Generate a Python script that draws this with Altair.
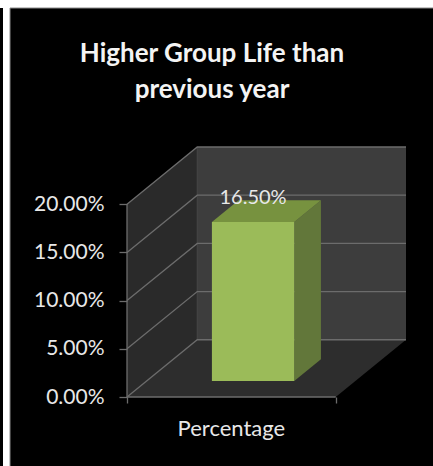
import altair as alt
import pandas as pd

# Chart content
title_lines = ["Higher Group Life than", "previous year"]
category = "Percentage"
value = 0.165
y_ticks = [0.0, 0.05, 0.10, 0.15, 0.20]

# Oblique projection: one unit of depth shifts right and up by these amounts
DEPTH_X = 70 / 208
DEPTH_Y = 57 / 960
Y_TOP = 0.20
BAR_X = (0.3125, 0.707)
BAR_DEPTH = (0.28, 0.66)

GRID = "#6c6c6c"
TEXT = "#e8e8e8"
FONT = "Lato"

x_scale = alt.Scale(domain=[0, 1 + DEPTH_X], nice=False, zero=False)
y_scale = alt.Scale(domain=[0, Y_TOP + DEPTH_Y], nice=False, zero=False)


def px(x, d):
    return x + d * DEPTH_X


def py(v, d):
    return v + d * DEPTH_Y


def upright(x_a, d_a, x_b, d_b, low, high, color):
    """Face with vertical sides, running from one (x, depth) to another."""
    df = pd.DataFrame({
        "sx": [px(x_a, d_a), px(x_b, d_b)],
        "lo": [py(low, d_a), py(low, d_b)],
        "hi": [py(high, d_a), py(high, d_b)],
    })
    return alt.Chart(df).mark_area(color=color, orient="vertical", opacity=1).encode(
        x=alt.X("sx:Q", scale=x_scale, axis=None),
        y=alt.Y("lo:Q", scale=y_scale, axis=None),
        y2="hi:Q",
    )


def level(x_a, x_b, d_a, d_b, v, color):
    """Horizontal face at height v, from depth d_a to depth d_b."""
    df = pd.DataFrame({
        "sy": [py(v, d_a), py(v, d_b)],
        "left": [px(x_a, d_a), px(x_a, d_b)],
        "right": [px(x_b, d_a), px(x_b, d_b)],
    })
    return alt.Chart(df).mark_area(color=color, orient="horizontal", opacity=1).encode(
        y=alt.Y("sy:Q", scale=y_scale, axis=None),
        x=alt.X("left:Q", scale=x_scale, axis=None),
        x2="right:Q",
    )


# Page frame: white ground with a black panel and a thin black strip at the edge
panel = alt.Chart(pd.DataFrame({"k": [0]})).mark_rect(
    color="#000000", stroke="#8a8a8a", strokeWidth=1
).encode(x=alt.value(-117), x2=alt.value(320), y=alt.value(-139), y2=alt.value(330))
strip = alt.Chart(pd.DataFrame({"k": [0]})).mark_rect(color="#000000").encode(
    x=alt.value(-127), x2=alt.value(-124), y=alt.value(-139), y2=alt.value(330)
)

left_wall = upright(0, 0, 0, 1, 0, Y_TOP, "#2a2a2a")
back_wall = upright(0, 1, 1, 1, 0, Y_TOP, "#3d3d3d")
floor = level(0, 1, 0, 1, 0, "#2d2d2d")

# Gridlines follow the left wall, then the back wall
grid_rows = []
for tick in y_ticks:
    for x, d in [(0, 0), (0, 1), (1, 1)]:
        grid_rows.append({"tick": tick, "sx": px(x, d), "sy": py(tick, d)})
gridlines = alt.Chart(pd.DataFrame(grid_rows)).mark_line(color=GRID, strokeWidth=1.3).encode(
    x=alt.X("sx:Q", scale=x_scale, axis=None),
    y=alt.Y("sy:Q", scale=y_scale, axis=None),
    detail="tick:N",
)
corner = alt.Chart(pd.DataFrame({
    "sx": [px(0, 1), px(0, 1)], "sy": [py(0, 1), py(Y_TOP, 1)]
})).mark_line(color="#4a4a4a", strokeWidth=1).encode(
    x=alt.X("sx:Q", scale=x_scale, axis=None),
    y=alt.Y("sy:Q", scale=y_scale, axis=None),
)

# The bar: side, top, then front face
d0, d1 = BAR_DEPTH
x0, x1 = BAR_X
bar_side = upright(x1, d0, x1, d1, 0, value, "#62773a")
bar_top = level(x0, x1, d0, d1, value, "#77923f")
bar_front = upright(x0, d0, x1, d0, 0, value, "#9bbb59")

value_label = alt.Chart(pd.DataFrame({
    "sx": [px((x0 + x1) / 2, d0)], "sy": [py(value, d1)], "label": [f"{value:.2%}"]
})).mark_text(font=FONT, fontSize=20, color=TEXT, baseline="middle", dy=-2).encode(
    x=alt.X("sx:Q", scale=x_scale, axis=None),
    y=alt.Y("sy:Q", scale=y_scale, axis=None),
    text="label:N",
)

# Real axes: value ticks on the left, category boundaries along the bottom
axes = alt.Chart(pd.DataFrame({"sx": [0, 1], "sy": [0, Y_TOP]})).mark_line(opacity=0).encode(
    x=alt.X("sx:Q", scale=x_scale, axis=alt.Axis(
        values=[0, 1], labels=False, title=None, grid=False, zindex=1,
        domain=False, tickColor=GRID, tickSize=6, tickWidth=1.3,
    )),
    y=alt.Y("sy:Q", scale=y_scale, axis=alt.Axis(
        values=y_ticks, format=".2%", title=None, grid=False, zindex=1,
        domain=False, tickColor=GRID, tickSize=8, tickWidth=1.3,
        labelFont=FONT, labelFontSize=21, labelColor=TEXT, labelPadding=15,
    )),
)
axis_lines = alt.Chart(pd.DataFrame({"sx": [0, 0, 1], "sy": [Y_TOP, 0, 0], "o": [0, 1, 2]})).mark_line(
    color=GRID, strokeWidth=1.3
).encode(
    x=alt.X("sx:Q", scale=x_scale, axis=None),
    y=alt.Y("sy:Q", scale=y_scale, axis=None),
    order="o:Q",
)
category_label = alt.Chart(pd.DataFrame({"sx": [0.5], "sy": [0.0], "label": [category]})).mark_text(
    font=FONT, fontSize=22, color=TEXT, baseline="middle", dy=32
).encode(
    x=alt.X("sx:Q", scale=x_scale, axis=None),
    y=alt.Y("sy:Q", scale=y_scale, axis=None),
    text="label:N",
)

# Two-line heading, centred over the panel
heading = alt.Chart(pd.DataFrame({"label": ["\n".join(title_lines)]})).mark_text(
    font=FONT, fontSize=26, fontWeight="bold", color="#f4f4f4", align="center",
    baseline="alphabetic", lineBreak="\n", lineHeight=36,
).encode(x=alt.value(85), y=alt.value(-85), text="label:N")

chart = alt.layer(
    panel, strip, left_wall, back_wall, floor, corner, gridlines,
    bar_side, bar_top, bar_front, value_label, axis_lines, category_label, heading, axes,
).resolve_axis(x="independent", y="independent").properties(
    width=279,
    height=250,
    background="#ffffff",
    autosize=alt.AutoSizeParams(type="none"),
    padding={"left": 127, "top": 147, "right": 27, "bottom": 69},
).configure_view(stroke=None)

chart.save("out.html", embed_options={"renderer": "svg", "actions": False})
